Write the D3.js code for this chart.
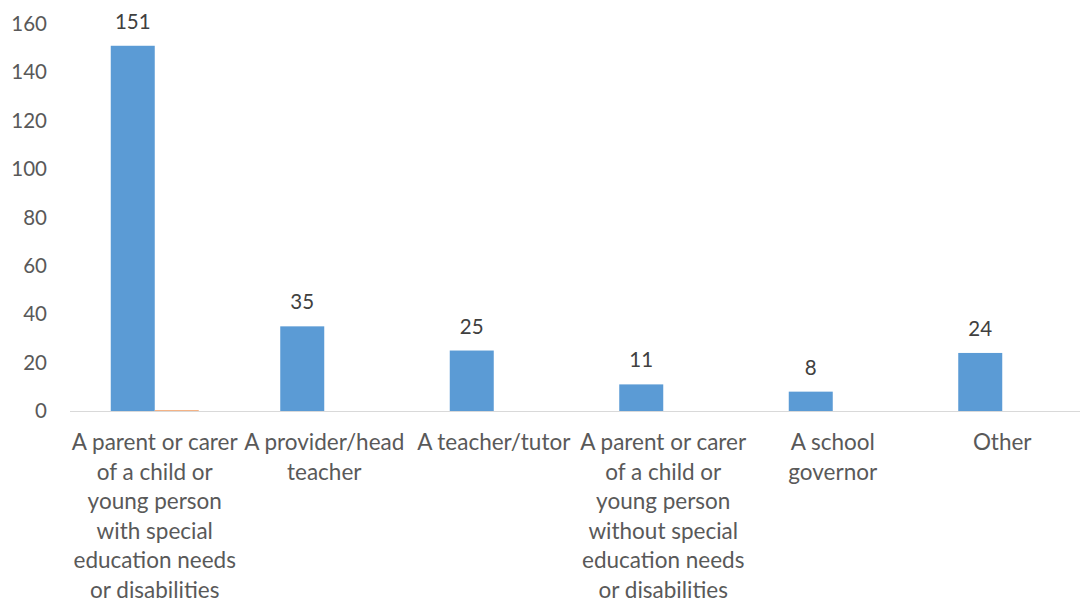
<!DOCTYPE html>
<html>
<head>
<meta charset="utf-8">
<script src="https://cdn.jsdelivr.net/npm/d3@7"></script>
<style>
  html, body { margin: 0; padding: 0; background: #fff; }
  svg { display: block; font-family: Lato, "Open Sans", "Liberation Sans", sans-serif; }
</style>
</head>
<body>
<svg id="chart" width="1080" height="601"></svg>
<script>
// Respondent groups (each entry is a list of wrapped label lines)
const categories = [
  ["A parent or carer", "of a child or", "young person", "with special", "education needs", "or disabilities"],
  ["A provider/head", "teacher"],
  ["A teacher/tutor"],
  ["A parent or carer", "of a child or", "young person", "without special", "education needs", "or disabilities"],
  ["A school", "governor"],
  ["Other"]
];
const seriesMain = [151, 35, 25, 11, 8, 24];
const seriesSecond = [0.4, 0, 0, 0, 0, 0];
const yTicks = [0, 20, 40, 60, 80, 100, 120, 140, 160];

const svg = d3.select("#chart");
const margin = { left: 70, right: -7, top: 24, bottom: 190 };
const width = 1080, height = 601;
const y0 = 411;

const x = d3.scaleBand()
  .domain(d3.range(categories.length))
  .range([margin.left, width - margin.right])
  .paddingInner(0).paddingOuter(0);

const y = d3.scaleLinear().domain([0, 160]).range([y0, margin.top]);

const barW = 44;

// y axis labels
const yAxis = d3.axisLeft(y).tickValues(yTicks).tickSize(0).tickPadding(0);
const gy = svg.append("g").attr("transform", "translate(47,0)").call(yAxis);
gy.select(".domain").remove();
gy.selectAll("text")
  .attr("font-size", 20.5)
  .attr("fill", "#595959")
  .attr("font-family", "Lato, 'Open Sans', sans-serif");

// main series bars
svg.append("g").selectAll("rect")
  .data(seriesMain)
  .join("rect")
  .attr("x", (d, i) => x(i) + x.bandwidth() / 2 - barW)
  .attr("y", d => y(d))
  .attr("width", barW)
  .attr("height", d => y0 - y(d))
  .attr("fill", "#5B9BD5");

// second series bars
svg.append("g").selectAll("rect")
  .data(seriesSecond)
  .join("rect")
  .attr("x", (d, i) => x(i) + x.bandwidth() / 2)
  .attr("y", d => y(d))
  .attr("width", barW)
  .attr("height", d => y0 - y(d))
  .attr("fill", "#F4B183");

// value labels
svg.append("g").selectAll("text")
  .data(seriesMain)
  .join("text")
  .attr("x", (d, i) => x(i) + x.bandwidth() / 2 - barW / 2)
  .attr("y", d => y(d) - 17)
  .attr("text-anchor", "middle")
  .attr("font-size", 20.5)
  .attr("fill", "#404040")
  .text(d => d);

// x axis baseline
svg.append("line")
  .attr("x1", margin.left).attr("x2", width)
  .attr("y1", y0 + 0.5).attr("y2", y0 + 0.5)
  .attr("stroke", "#D9D9D9").attr("stroke-width", 1.2);

// category labels
const catG = svg.append("g").selectAll("text")
  .data(categories)
  .join("text")
  .attr("text-anchor", "middle")
  .attr("font-size", 22.5)
  .attr("fill", "#595959");
catG.selectAll("tspan")
  .data((d, i) => d.map(line => ({ line, i })))
  .join("tspan")
  .attr("x", d => x(d.i) + x.bandwidth() / 2)
  .attr("y", (d, j) => 450 + j * 29.5)
  .text(d => d.line);
</script>
</body>
</html>
